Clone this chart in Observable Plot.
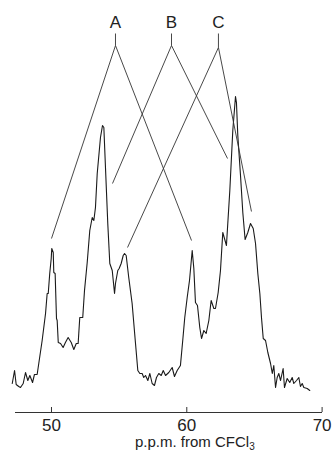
<!DOCTYPE html>
<html>
<head>
<meta charset="utf-8">
<script src="https://cdn.jsdelivr.net/npm/d3@7"></script>
<script src="https://cdn.jsdelivr.net/npm/@observablehq/plot@0.6"></script>
<style>
  html, body { margin: 0; padding: 0; background: #fff; }
  #chart svg { display: block; overflow: visible; }
  #caption { font-family: "Liberation Sans", Arial, sans-serif; font-size: 15px; line-height: 16px; height: 16px; margin-top: -2px; padding-left: 135px; color: #222; white-space: nowrap; }
  #caption sub { font-size: 10px; vertical-align: -3px; line-height: 0; }
</style>
</head>
<body>
<div id="chart"></div>
<div id="caption">p.p.m. from CFCl<sub>3</sub></div>
<script>
// Spectrum trace (chemical shift, p.p.m. from CFCl3) and signal intensity (arbitrary units)
const ppm = [47.10,47.27,47.39,47.58,47.71,47.91,48.08,48.25,48.40,48.60,48.74,48.94,49.06,49.31,49.56,49.68,49.76,49.87,49.98,50.02,50.13,50.17,50.27,50.37,50.42,50.50,50.67,50.86,51.03,51.23,51.46,51.65,51.83,51.97,52.09,52.31,52.44,52.64,52.83,53.01,53.13,53.25,53.38,53.62,53.77,53.87,53.99,54.16,54.31,54.49,54.66,54.73,54.90,55.00,55.15,55.30,55.40,55.52,55.71,55.96,56.21,56.38,56.53,56.70,56.82,56.95,57.12,57.27,57.44,57.61,57.76,57.93,58.11,58.26,58.43,58.67,58.92,59.09,59.29,59.53,59.70,59.85,60.03,60.20,60.40,60.52,60.64,60.79,60.96,61.09,61.26,61.43,61.63,61.80,62.00,62.12,62.32,62.49,62.66,62.93,63.18,63.40,63.60,63.67,63.77,63.97,64.14,64.31,64.51,64.71,64.91,65.08,65.25,65.40,65.52,65.65,65.82,65.99,66.19,66.32,66.43,66.56,66.68,66.80,66.93,67.12,67.22,67.42,67.61,67.79,67.91,68.11,68.28,68.40,68.53,68.65,68.90,69.09];
const intensity = [29,42,28,26,25,29,40,32,37,30,38,38,49,72,99,119,119,139,154,164,160,140,139,94,92,70,69,65,70,75,70,63,69,69,95,95,122,150,182,195,192,205,239,275,287,285,245,189,149,142,119,129,142,144,149,157,159,157,135,109,69,42,39,39,35,37,32,39,29,27,35,39,37,42,37,40,45,36,42,47,72,95,115,132,162,144,110,107,85,74,82,79,92,112,104,104,120,142,180,167,222,282,316,310,277,237,200,173,180,189,184,169,139,119,95,74,72,60,49,39,47,25,35,39,32,44,25,34,30,35,29,32,35,26,29,25,24,22];

// Axis ticks
const tickValues = [50, 60, 70];

// Peak-group assignment labels and their connecting lines
const peakLabels = ["A", "B", "C"];
const labelPpm = [54.73, 58.87, 62.34];
const labelY = [390, 390, 390];
const stemTopY = [379, 379, 379];
const apexY = [367, 367, 365];
const leftEndPpm = [50.00, 54.51, 55.62];
const leftEndY = [174, 229, 165];
const rightEndPpm = [60.35, 63.01, 64.78];
const rightEndY = [172, 254, 201];

const spectrum = ppm.map((x, i) => ({x, y: intensity[i]}));
const groups = peakLabels.map((label, i) => ({
  label, x: labelPpm[i], ty: labelY[i], sy: stemTopY[i], ay: apexY[i],
  lx: leftEndPpm[i], ly: leftEndY[i], rx: rightEndPpm[i], ry: rightEndY[i]
}));

const chart = Plot.plot({
  width: 336,
  height: 436,
  marginLeft: 15,
  marginRight: 14,
  marginTop: 0,
  marginBottom: 24,
  style: {fontFamily: "'Liberation Sans', Arial, sans-serif", background: "#fff", color: "#222", overflow: "visible"},
  x: {domain: [47.34, 70.03]},
  y: {domain: [0, 412], axis: null},
  marks: [
    Plot.ruleY([0], {stroke: "#333", strokeWidth: 1}),
    Plot.axisX({ticks: tickValues, tickSize: -5, tickPadding: 11, fontSize: 17, label: null, stroke: "#333", fill: "#222"}),
    Plot.line(spectrum, {x: "x", y: "y", stroke: "#1a1a1a", strokeWidth: 1.1, curve: "linear"}),
    Plot.link(groups, {x1: "x", y1: "ay", x2: "lx", y2: "ly", stroke: "#333", strokeWidth: 0.9}),
    Plot.link(groups, {x1: "x", y1: "ay", x2: "rx", y2: "ry", stroke: "#333", strokeWidth: 0.9}),
    Plot.link(groups, {x1: "x", y1: "ay", x2: "x", y2: "sy", stroke: "#333", strokeWidth: 0.9}),
    Plot.text(groups, {x: "x", y: "ty", text: "label", fontSize: 17, fill: "#222", textAnchor: "middle", lineAnchor: "middle"})
  ]
});
document.getElementById("chart").appendChild(chart);
</script>
</body>
</html>
